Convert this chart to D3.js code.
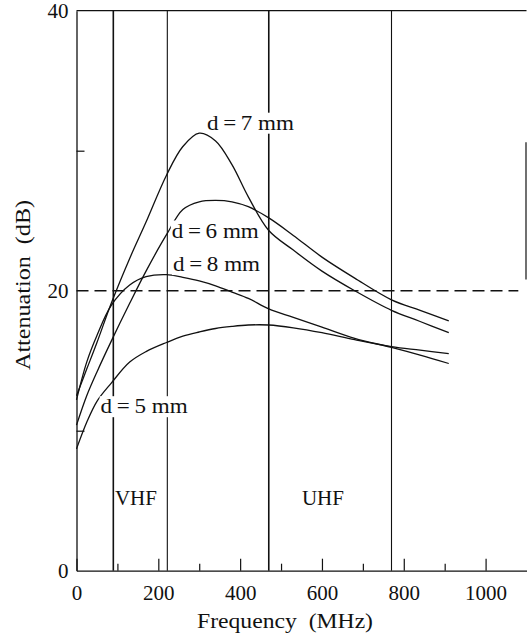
<!DOCTYPE html>
<html>
<head>
<meta charset="utf-8">
<script src="https://cdn.jsdelivr.net/npm/d3@7"></script>
<style>
  html, body { margin: 0; padding: 0; background: #fff; }
  svg { display: block; }
  text { font-family: "Liberation Serif", "Times New Roman", serif; fill: #111; }
</style>
</head>
<body>
<svg id="chart" width="527" height="634"></svg>
<script>
// Frequency grid (MHz) shared by the four attenuation curves
const freqMHz = [0, 25, 50, 85, 130, 170, 220, 260, 300, 340, 380, 420, 470, 530, 600, 680, 770, 840, 910];
// Attenuation (dB) for each spacing d
const attD5 = [8.7, 10.6, 12.1, 13.4, 14.9, 15.65, 16.3, 16.75, 17.05, 17.3, 17.45, 17.55, 17.55, 17.35, 17.0, 16.5, 16.0, 15.75, 15.5];
const attD6 = [10.4, 12.5, 14.2, 16.4, 19.1, 21.4, 24.0, 25.8, 26.35, 26.45, 26.35, 26.0, 25.2, 23.95, 22.4, 20.9, 19.35, 18.6, 17.85];
const attD7 = [12.5, 14.4, 16.3, 19.1, 22.3, 24.9, 28.25, 30.3, 31.25, 30.7, 29.0, 26.7, 24.3, 22.9, 21.4, 20.0, 18.6, 17.8, 17.0];
const attD8 = [12.2, 14.9, 16.8, 18.95, 20.4, 21.0, 21.15, 20.95, 20.7, 20.35, 19.9, 19.45, 18.7, 18.1, 17.4, 16.6, 15.95, 15.4, 14.8];
const seriesNames = ["d\u2009=\u20095 mm", "d\u2009=\u20096 mm", "d\u2009=\u20097 mm", "d\u2009=\u20098 mm"];
// Where each curve label sits: [MHz, dB] of the text baseline start
const labelAt = [[59, 11.25], [233, 23.8], [319, 31.5], [236, 21.4]];

// TV band edges (MHz): VHF 90–222, UHF 470–770
const bandEdges = [90, 222, 470, 770];
const bandNames = ["VHF", "UHF"];
const bandLabelAt = [[94, 4.7], [551, 4.7]];

const xTicks = [0, 200, 400, 600, 800, 1000];
const xMinorTicks = [100, 300, 500, 700, 900];
const yTicks = [0, 20, 40];
const yMinorTicks = [10, 30];
const limitDb = 20;

const svg = d3.select("#chart");
const x = d3.scaleLinear().domain([0, 1100]).range([76.5, 526.5]);
const y = d3.scaleLinear().domain([0, 40]).range([570.7, 10.7]);
const ink = "#111";
const fontPx = 21;

// frame: top edge and the visible part of the right edge
svg.append("line")
  .attr("x1", x(0)).attr("x2", x(1100))
  .attr("y1", y(40)).attr("y2", y(40))
  .attr("stroke", ink).attr("stroke-width", 1.2);
svg.append("line")
  .attr("x1", x(1100) - 0.5).attr("x2", x(1100) - 0.5)
  .attr("y1", y(30.6)).attr("y2", y(20.8))
  .attr("stroke", ink).attr("stroke-width", 1.2);

// x axis with major and minor inward ticks
svg.append("g")
  .attr("transform", `translate(0,${y(0)})`)
  .call(d3.axisBottom(x).tickValues(xTicks).tickSize(-12).tickSizeOuter(0).tickPadding(14).tickFormat(d3.format("d")));
svg.append("g")
  .attr("transform", `translate(0,${y(0)})`)
  .call(d3.axisBottom(x).tickValues(xMinorTicks).tickSize(-7).tickSizeOuter(0).tickFormat(""))
  .call(g => g.select(".domain").remove());

// y axis
svg.append("g")
  .attr("transform", `translate(${x(0)},0)`)
  .call(d3.axisLeft(y).tickValues(yTicks).tickSize(0).tickSizeOuter(0).tickPadding(8));
svg.append("g")
  .attr("transform", `translate(${x(0)},0)`)
  .call(d3.axisLeft(y).tickValues(yMinorTicks).tickSize(-8).tickSizeOuter(0).tickFormat(""))
  .call(g => g.select(".domain").remove());

svg.selectAll(".domain").attr("stroke", ink).attr("stroke-width", 1.3);
svg.selectAll(".tick line").attr("stroke", ink).attr("stroke-width", 1.2);
svg.selectAll(".tick text")
  .attr("font-family", '"Liberation Serif", serif')
  .attr("font-size", fontPx).attr("fill", ink);

// band edge verticals
svg.append("g").selectAll("line")
  .data(bandEdges)
  .join("line")
  .attr("x1", d => x(d)).attr("x2", d => x(d))
  .attr("y1", y(0)).attr("y2", y(40))
  .attr("stroke", ink)
  .attr("stroke-width", (d, i) => (i % 2 === 0 ? 1.6 : 1.1));

// 20 dB reference line
svg.append("line")
  .attr("x1", x(0)).attr("x2", x(1080))
  .attr("y1", y(limitDb)).attr("y2", y(limitDb))
  .attr("stroke", ink).attr("stroke-width", 1.5)
  .attr("stroke-dasharray", "12,6");

// attenuation curves
const curves = [attD5, attD6, attD7, attD8];
const line = d3.line()
  .x((d, i) => x(freqMHz[i]))
  .y(d => y(d))
  .curve(d3.curveCatmullRom.alpha(0.5));
svg.append("g").selectAll("path")
  .data(curves)
  .join("path")
  .attr("d", line)
  .attr("fill", "none")
  .attr("stroke", ink)
  .attr("stroke-width", 1.3);

// curve labels on a white ground so they break the lines behind them
const labels = svg.append("g").selectAll("g")
  .data(seriesNames)
  .join("g");
labels.append("text")
  .attr("x", (d, i) => x(labelAt[i][0]))
  .attr("y", (d, i) => y(labelAt[i][1]))
  .attr("font-size", fontPx)
  .attr("textLength", 87)
  .attr("lengthAdjust", "spacingAndGlyphs")
  .text(d => d);
labels.each(function () {
  const g = d3.select(this);
  const b = g.select("text").node().getBBox();
  g.insert("rect", "text")
    .attr("x", b.x - 1).attr("y", b.y + 2)
    .attr("width", b.width + 2).attr("height", b.height - 3)
    .attr("fill", "#fff");
});

// band names
svg.append("g").selectAll("text")
  .data(bandNames)
  .join("text")
  .attr("x", (d, i) => x(bandLabelAt[i][0]))
  .attr("y", (d, i) => y(bandLabelAt[i][1]))
  .attr("font-size", fontPx)
  .text(d => d);

// axis titles
svg.append("text")
  .attr("x", 285).attr("y", 628)
  .attr("text-anchor", "middle")
  .attr("font-size", fontPx)
  .attr("textLength", 176)
  .attr("lengthAdjust", "spacingAndGlyphs")
  .text("Frequency\u2002(MHz)");
svg.append("text")
  .attr("transform", "translate(30,285) rotate(-90)")
  .attr("text-anchor", "middle")
  .attr("font-size", fontPx)
  .attr("textLength", 170)
  .attr("lengthAdjust", "spacingAndGlyphs")
  .text("Attenuation\u2002(dB)");
</script>
</body>
</html>
